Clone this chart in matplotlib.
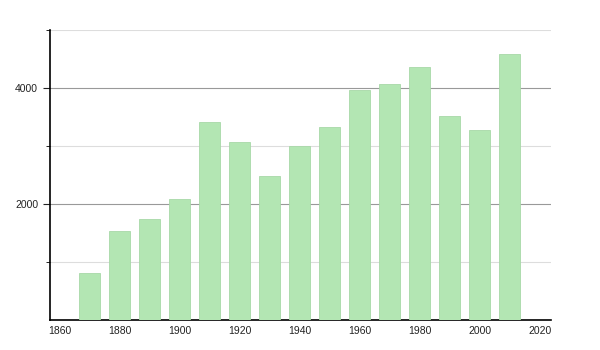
import matplotlib
matplotlib.use("Agg")
import matplotlib.pyplot as plt
from matplotlib.ticker import FixedLocator

# ── Data ──────────────────────────────────────────────────────────────────
years  = [1870, 1880, 1890, 1900, 1910, 1920, 1930, 1940,
          1950, 1960, 1970, 1980, 1990, 2000, 2010]
values = [805, 1534, 1741, 2086, 3408, 3063, 2483, 3000,
          3328, 3960, 4069, 4356, 3517, 3276, 4586]
x_ticks = [1860, 1880, 1900, 1920, 1940, 1960, 1980, 2000, 2020]
y_major = [2000, 4000]
y_minor = [1000, 3000, 5000]

plt.rcParams["font.family"] = ["Liberation Sans", "DejaVu Sans"]

fig = plt.figure(figsize=(6, 3.5), dpi=100)
ax = fig.add_axes([50 / 600, 30 / 350, 501 / 600, 290 / 350])

ax.bar(years, values, width=7, color="#b3e6b3", edgecolor="#a8d8a8",
       linewidth=0.6, zorder=3)

ax.set_xlim(1856.7, 2023.7)
ax.set_ylim(0, 5000)
ax.set_xticks(x_ticks)
ax.yaxis.set_major_locator(FixedLocator(y_major))
ax.yaxis.set_minor_locator(FixedLocator(y_minor))

ax.grid(axis="y", which="major", color="#999999", linewidth=0.8, zorder=1)
ax.grid(axis="y", which="minor", color="#dddddd", linewidth=0.8, zorder=1)

for side in ("top", "right"):
    ax.spines[side].set_visible(False)
ax.spines["left"].set_linewidth(1.2)
ax.spines["bottom"].set_linewidth(1.2)

ax.tick_params(axis="x", length=0, labelsize=7.5, pad=4, colors="#222222")
ax.tick_params(axis="y", which="major", length=5, labelsize=7.5,
               colors="#222222")
ax.tick_params(axis="y", which="minor", length=3)

fig.savefig("out.png", dpi=100, facecolor="white")
